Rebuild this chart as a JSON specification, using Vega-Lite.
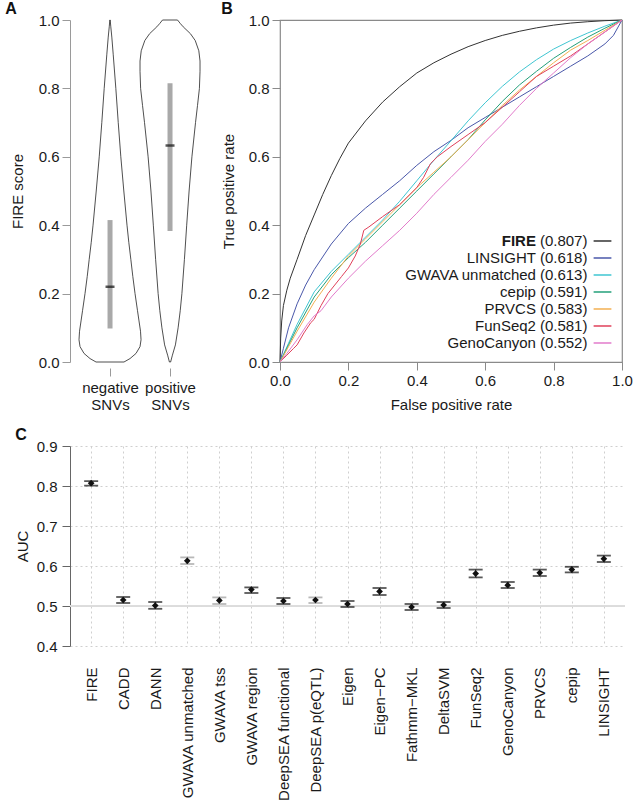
{
  "$schema": "https://vega.github.io/schema/vega-lite/v6.json",
  "padding": {"left": 5, "top": 0, "right": 5, "bottom": 0},
  "background": "white",
  "config": {
    "font": "Liberation Sans",
    "view": {"stroke": null},
    "axis": {"labelFontSize": 15, "titleFontSize": 15, "titleFontWeight": "normal", "labelColor": "#1a1a1a", "titleColor": "#1a1a1a", "tickColor": "#8a8a8a", "domainColor": "#8a8a8a", "tickSize": 8, "labelPadding": 3, "grid": false, "labelFont": "Liberation Sans", "titleFont": "Liberation Sans", "labelFlush": false, "labelOverlap": false},
    "title": {"fontSize": 16, "fontWeight": "bold", "anchor": "start", "frame": "bounds", "color": "#111", "font": "Liberation Sans"}
  },
  "datasets": {
    "violin": [
      {"group": "negative", "score": 0.0, "w": 0.233},
      {"group": "negative", "score": 0.01, "w": 0.333},
      {"group": "negative", "score": 0.025, "w": 0.433},
      {"group": "negative", "score": 0.045, "w": 0.5},
      {"group": "negative", "score": 0.065, "w": 0.517},
      {"group": "negative", "score": 0.09, "w": 0.508},
      {"group": "negative", "score": 0.12, "w": 0.483},
      {"group": "negative", "score": 0.15, "w": 0.458},
      {"group": "negative", "score": 0.2, "w": 0.417},
      {"group": "negative", "score": 0.25, "w": 0.38},
      {"group": "negative", "score": 0.3, "w": 0.347},
      {"group": "negative", "score": 0.35, "w": 0.313},
      {"group": "negative", "score": 0.4, "w": 0.283},
      {"group": "negative", "score": 0.5, "w": 0.23},
      {"group": "negative", "score": 0.6, "w": 0.18},
      {"group": "negative", "score": 0.7, "w": 0.137},
      {"group": "negative", "score": 0.8, "w": 0.097},
      {"group": "negative", "score": 0.9, "w": 0.053},
      {"group": "negative", "score": 0.95, "w": 0.03},
      {"group": "negative", "score": 0.98, "w": 0.013},
      {"group": "negative", "score": 1.0, "w": 0.003},
      {"group": "positive", "score": 0.0, "w": 0.01},
      {"group": "positive", "score": 0.02, "w": 0.04},
      {"group": "positive", "score": 0.05, "w": 0.09},
      {"group": "positive", "score": 0.1, "w": 0.135},
      {"group": "positive", "score": 0.15, "w": 0.17},
      {"group": "positive", "score": 0.2, "w": 0.198},
      {"group": "positive", "score": 0.3, "w": 0.24},
      {"group": "positive", "score": 0.4, "w": 0.278},
      {"group": "positive", "score": 0.5, "w": 0.318},
      {"group": "positive", "score": 0.6, "w": 0.365},
      {"group": "positive", "score": 0.7, "w": 0.425},
      {"group": "positive", "score": 0.75, "w": 0.458},
      {"group": "positive", "score": 0.8, "w": 0.49},
      {"group": "positive", "score": 0.85, "w": 0.5},
      {"group": "positive", "score": 0.88, "w": 0.5},
      {"group": "positive", "score": 0.91, "w": 0.48},
      {"group": "positive", "score": 0.94, "w": 0.42},
      {"group": "positive", "score": 0.96, "w": 0.34},
      {"group": "positive", "score": 0.98, "w": 0.22},
      {"group": "positive", "score": 0.99, "w": 0.17},
      {"group": "positive", "score": 1.0, "w": 0.125}
    ],
    "box": [
      {"group": "negative", "q1": 0.098, "median": 0.22, "q3": 0.415},
      {"group": "positive", "q1": 0.383, "median": 0.633, "q3": 0.815}
    ],
    "roc": [
      {"model": "FIRE", "fpr": 0, "tpr": 0},
      {"model": "FIRE", "fpr": 0.002, "tpr": 0.07},
      {"model": "FIRE", "fpr": 0.005, "tpr": 0.12},
      {"model": "FIRE", "fpr": 0.01, "tpr": 0.165},
      {"model": "FIRE", "fpr": 0.02, "tpr": 0.21},
      {"model": "FIRE", "fpr": 0.03, "tpr": 0.245},
      {"model": "FIRE", "fpr": 0.05, "tpr": 0.3},
      {"model": "FIRE", "fpr": 0.075, "tpr": 0.37},
      {"model": "FIRE", "fpr": 0.1, "tpr": 0.43},
      {"model": "FIRE", "fpr": 0.125, "tpr": 0.49},
      {"model": "FIRE", "fpr": 0.15, "tpr": 0.545},
      {"model": "FIRE", "fpr": 0.175, "tpr": 0.595},
      {"model": "FIRE", "fpr": 0.2, "tpr": 0.64},
      {"model": "FIRE", "fpr": 0.25, "tpr": 0.705},
      {"model": "FIRE", "fpr": 0.3, "tpr": 0.76},
      {"model": "FIRE", "fpr": 0.35, "tpr": 0.805},
      {"model": "FIRE", "fpr": 0.4, "tpr": 0.845},
      {"model": "FIRE", "fpr": 0.45, "tpr": 0.875},
      {"model": "FIRE", "fpr": 0.5, "tpr": 0.9},
      {"model": "FIRE", "fpr": 0.55, "tpr": 0.922},
      {"model": "FIRE", "fpr": 0.6, "tpr": 0.94},
      {"model": "FIRE", "fpr": 0.65, "tpr": 0.955},
      {"model": "FIRE", "fpr": 0.7, "tpr": 0.967},
      {"model": "FIRE", "fpr": 0.75, "tpr": 0.977},
      {"model": "FIRE", "fpr": 0.8, "tpr": 0.985},
      {"model": "FIRE", "fpr": 0.85, "tpr": 0.991},
      {"model": "FIRE", "fpr": 0.9, "tpr": 0.995},
      {"model": "FIRE", "fpr": 0.95, "tpr": 0.998},
      {"model": "FIRE", "fpr": 1, "tpr": 1},
      {"model": "LINSIGHT", "fpr": 0, "tpr": 0},
      {"model": "LINSIGHT", "fpr": 0.01, "tpr": 0.04},
      {"model": "LINSIGHT", "fpr": 0.025, "tpr": 0.1},
      {"model": "LINSIGHT", "fpr": 0.05, "tpr": 0.17},
      {"model": "LINSIGHT", "fpr": 0.075, "tpr": 0.225},
      {"model": "LINSIGHT", "fpr": 0.1, "tpr": 0.27},
      {"model": "LINSIGHT", "fpr": 0.15, "tpr": 0.345},
      {"model": "LINSIGHT", "fpr": 0.2, "tpr": 0.405},
      {"model": "LINSIGHT", "fpr": 0.25, "tpr": 0.45},
      {"model": "LINSIGHT", "fpr": 0.3, "tpr": 0.49},
      {"model": "LINSIGHT", "fpr": 0.35, "tpr": 0.53},
      {"model": "LINSIGHT", "fpr": 0.4, "tpr": 0.575},
      {"model": "LINSIGHT", "fpr": 0.45, "tpr": 0.615},
      {"model": "LINSIGHT", "fpr": 0.5, "tpr": 0.648},
      {"model": "LINSIGHT", "fpr": 0.55, "tpr": 0.685},
      {"model": "LINSIGHT", "fpr": 0.6, "tpr": 0.715},
      {"model": "LINSIGHT", "fpr": 0.65, "tpr": 0.745},
      {"model": "LINSIGHT", "fpr": 0.7, "tpr": 0.775},
      {"model": "LINSIGHT", "fpr": 0.75, "tpr": 0.805},
      {"model": "LINSIGHT", "fpr": 0.8, "tpr": 0.835},
      {"model": "LINSIGHT", "fpr": 0.85, "tpr": 0.865},
      {"model": "LINSIGHT", "fpr": 0.9, "tpr": 0.895},
      {"model": "LINSIGHT", "fpr": 0.95, "tpr": 0.93},
      {"model": "LINSIGHT", "fpr": 0.975, "tpr": 0.955},
      {"model": "LINSIGHT", "fpr": 1, "tpr": 1},
      {"model": "GWAVA unmatched", "fpr": 0, "tpr": 0},
      {"model": "GWAVA unmatched", "fpr": 0.025, "tpr": 0.055},
      {"model": "GWAVA unmatched", "fpr": 0.05, "tpr": 0.11},
      {"model": "GWAVA unmatched", "fpr": 0.1, "tpr": 0.205},
      {"model": "GWAVA unmatched", "fpr": 0.15, "tpr": 0.265},
      {"model": "GWAVA unmatched", "fpr": 0.2, "tpr": 0.315},
      {"model": "GWAVA unmatched", "fpr": 0.25, "tpr": 0.365},
      {"model": "GWAVA unmatched", "fpr": 0.3, "tpr": 0.415},
      {"model": "GWAVA unmatched", "fpr": 0.35, "tpr": 0.47},
      {"model": "GWAVA unmatched", "fpr": 0.4, "tpr": 0.53},
      {"model": "GWAVA unmatched", "fpr": 0.45, "tpr": 0.59},
      {"model": "GWAVA unmatched", "fpr": 0.5, "tpr": 0.647},
      {"model": "GWAVA unmatched", "fpr": 0.55, "tpr": 0.705},
      {"model": "GWAVA unmatched", "fpr": 0.6, "tpr": 0.758},
      {"model": "GWAVA unmatched", "fpr": 0.65, "tpr": 0.806},
      {"model": "GWAVA unmatched", "fpr": 0.7, "tpr": 0.848},
      {"model": "GWAVA unmatched", "fpr": 0.75, "tpr": 0.884},
      {"model": "GWAVA unmatched", "fpr": 0.8, "tpr": 0.915},
      {"model": "GWAVA unmatched", "fpr": 0.85, "tpr": 0.94},
      {"model": "GWAVA unmatched", "fpr": 0.9, "tpr": 0.962},
      {"model": "GWAVA unmatched", "fpr": 0.95, "tpr": 0.982},
      {"model": "GWAVA unmatched", "fpr": 1, "tpr": 1},
      {"model": "cepip", "fpr": 0, "tpr": 0},
      {"model": "cepip", "fpr": 0.025, "tpr": 0.05},
      {"model": "cepip", "fpr": 0.05, "tpr": 0.1},
      {"model": "cepip", "fpr": 0.1, "tpr": 0.19},
      {"model": "cepip", "fpr": 0.15, "tpr": 0.255},
      {"model": "cepip", "fpr": 0.2, "tpr": 0.305},
      {"model": "cepip", "fpr": 0.25, "tpr": 0.35},
      {"model": "cepip", "fpr": 0.3, "tpr": 0.4},
      {"model": "cepip", "fpr": 0.35, "tpr": 0.45},
      {"model": "cepip", "fpr": 0.4, "tpr": 0.5},
      {"model": "cepip", "fpr": 0.45, "tpr": 0.55},
      {"model": "cepip", "fpr": 0.5, "tpr": 0.6},
      {"model": "cepip", "fpr": 0.55, "tpr": 0.65},
      {"model": "cepip", "fpr": 0.6, "tpr": 0.708},
      {"model": "cepip", "fpr": 0.65, "tpr": 0.762},
      {"model": "cepip", "fpr": 0.7, "tpr": 0.81},
      {"model": "cepip", "fpr": 0.75, "tpr": 0.85},
      {"model": "cepip", "fpr": 0.8, "tpr": 0.888},
      {"model": "cepip", "fpr": 0.85, "tpr": 0.92},
      {"model": "cepip", "fpr": 0.9, "tpr": 0.95},
      {"model": "cepip", "fpr": 0.95, "tpr": 0.976},
      {"model": "cepip", "fpr": 1, "tpr": 1},
      {"model": "PRVCS", "fpr": 0, "tpr": 0},
      {"model": "PRVCS", "fpr": 0.025, "tpr": 0.045},
      {"model": "PRVCS", "fpr": 0.05, "tpr": 0.09},
      {"model": "PRVCS", "fpr": 0.1, "tpr": 0.175},
      {"model": "PRVCS", "fpr": 0.15, "tpr": 0.245},
      {"model": "PRVCS", "fpr": 0.2, "tpr": 0.31},
      {"model": "PRVCS", "fpr": 0.25, "tpr": 0.36},
      {"model": "PRVCS", "fpr": 0.3, "tpr": 0.41},
      {"model": "PRVCS", "fpr": 0.35, "tpr": 0.46},
      {"model": "PRVCS", "fpr": 0.4, "tpr": 0.51},
      {"model": "PRVCS", "fpr": 0.45, "tpr": 0.555},
      {"model": "PRVCS", "fpr": 0.5, "tpr": 0.6},
      {"model": "PRVCS", "fpr": 0.55, "tpr": 0.65},
      {"model": "PRVCS", "fpr": 0.6, "tpr": 0.7},
      {"model": "PRVCS", "fpr": 0.65, "tpr": 0.75},
      {"model": "PRVCS", "fpr": 0.7, "tpr": 0.795},
      {"model": "PRVCS", "fpr": 0.75, "tpr": 0.835},
      {"model": "PRVCS", "fpr": 0.8, "tpr": 0.875},
      {"model": "PRVCS", "fpr": 0.85, "tpr": 0.912},
      {"model": "PRVCS", "fpr": 0.9, "tpr": 0.94},
      {"model": "PRVCS", "fpr": 0.95, "tpr": 0.97},
      {"model": "PRVCS", "fpr": 1, "tpr": 1},
      {"model": "FunSeq2", "fpr": 0, "tpr": 0},
      {"model": "FunSeq2", "fpr": 0.02, "tpr": 0.02},
      {"model": "FunSeq2", "fpr": 0.04, "tpr": 0.04},
      {"model": "FunSeq2", "fpr": 0.05, "tpr": 0.05},
      {"model": "FunSeq2", "fpr": 0.07, "tpr": 0.085},
      {"model": "FunSeq2", "fpr": 0.09, "tpr": 0.115},
      {"model": "FunSeq2", "fpr": 0.1, "tpr": 0.125},
      {"model": "FunSeq2", "fpr": 0.12, "tpr": 0.165},
      {"model": "FunSeq2", "fpr": 0.14, "tpr": 0.2},
      {"model": "FunSeq2", "fpr": 0.16, "tpr": 0.225},
      {"model": "FunSeq2", "fpr": 0.18, "tpr": 0.25},
      {"model": "FunSeq2", "fpr": 0.2, "tpr": 0.275},
      {"model": "FunSeq2", "fpr": 0.22, "tpr": 0.31},
      {"model": "FunSeq2", "fpr": 0.235, "tpr": 0.345},
      {"model": "FunSeq2", "fpr": 0.245, "tpr": 0.385},
      {"model": "FunSeq2", "fpr": 0.26, "tpr": 0.395},
      {"model": "FunSeq2", "fpr": 0.3, "tpr": 0.425},
      {"model": "FunSeq2", "fpr": 0.35, "tpr": 0.46},
      {"model": "FunSeq2", "fpr": 0.4, "tpr": 0.51},
      {"model": "FunSeq2", "fpr": 0.42, "tpr": 0.54},
      {"model": "FunSeq2", "fpr": 0.44, "tpr": 0.58},
      {"model": "FunSeq2", "fpr": 0.46, "tpr": 0.6},
      {"model": "FunSeq2", "fpr": 0.5, "tpr": 0.63},
      {"model": "FunSeq2", "fpr": 0.55, "tpr": 0.665},
      {"model": "FunSeq2", "fpr": 0.6, "tpr": 0.7},
      {"model": "FunSeq2", "fpr": 0.65, "tpr": 0.745},
      {"model": "FunSeq2", "fpr": 0.7, "tpr": 0.79},
      {"model": "FunSeq2", "fpr": 0.75, "tpr": 0.835},
      {"model": "FunSeq2", "fpr": 0.8, "tpr": 0.865},
      {"model": "FunSeq2", "fpr": 0.85, "tpr": 0.895},
      {"model": "FunSeq2", "fpr": 0.9, "tpr": 0.93},
      {"model": "FunSeq2", "fpr": 0.95, "tpr": 0.965},
      {"model": "FunSeq2", "fpr": 1, "tpr": 1},
      {"model": "GenoCanyon", "fpr": 0, "tpr": 0},
      {"model": "GenoCanyon", "fpr": 0.02, "tpr": 0.025},
      {"model": "GenoCanyon", "fpr": 0.05, "tpr": 0.065},
      {"model": "GenoCanyon", "fpr": 0.08, "tpr": 0.11},
      {"model": "GenoCanyon", "fpr": 0.1, "tpr": 0.135},
      {"model": "GenoCanyon", "fpr": 0.12, "tpr": 0.15},
      {"model": "GenoCanyon", "fpr": 0.15, "tpr": 0.19},
      {"model": "GenoCanyon", "fpr": 0.2, "tpr": 0.245},
      {"model": "GenoCanyon", "fpr": 0.25, "tpr": 0.295},
      {"model": "GenoCanyon", "fpr": 0.3, "tpr": 0.34},
      {"model": "GenoCanyon", "fpr": 0.35, "tpr": 0.385},
      {"model": "GenoCanyon", "fpr": 0.4, "tpr": 0.435},
      {"model": "GenoCanyon", "fpr": 0.45, "tpr": 0.49},
      {"model": "GenoCanyon", "fpr": 0.5, "tpr": 0.54},
      {"model": "GenoCanyon", "fpr": 0.55, "tpr": 0.59},
      {"model": "GenoCanyon", "fpr": 0.6, "tpr": 0.645},
      {"model": "GenoCanyon", "fpr": 0.65, "tpr": 0.695},
      {"model": "GenoCanyon", "fpr": 0.7, "tpr": 0.75},
      {"model": "GenoCanyon", "fpr": 0.75, "tpr": 0.8},
      {"model": "GenoCanyon", "fpr": 0.8, "tpr": 0.845},
      {"model": "GenoCanyon", "fpr": 0.85, "tpr": 0.89},
      {"model": "GenoCanyon", "fpr": 0.9, "tpr": 0.93},
      {"model": "GenoCanyon", "fpr": 0.95, "tpr": 0.965},
      {"model": "GenoCanyon", "fpr": 1, "tpr": 1}
    ],
    "auc": [
      {"model": "FIRE", "auc": 0.807, "lo": 0.801, "hi": 0.812},
      {"model": "CADD", "auc": 0.515, "lo": 0.5075, "hi": 0.5225},
      {"model": "DANN", "auc": 0.501, "lo": 0.493, "hi": 0.51},
      {"model": "GWAVA unmatched", "auc": 0.613, "lo": 0.605, "hi": 0.6215},
      {"model": "GWAVA tss", "auc": 0.514, "lo": 0.505, "hi": 0.5215},
      {"model": "GWAVA region", "auc": 0.541, "lo": 0.5325, "hi": 0.5465},
      {"model": "DeepSEA functional", "auc": 0.5125, "lo": 0.505, "hi": 0.52},
      {"model": "DeepSEA p(eQTL)", "auc": 0.515, "lo": 0.5075, "hi": 0.5215},
      {"model": "Eigen", "auc": 0.505, "lo": 0.4975, "hi": 0.5125},
      {"model": "Eigen\u2212PC", "auc": 0.5365, "lo": 0.5275, "hi": 0.545},
      {"model": "Fathmm\u2212MKL", "auc": 0.4975, "lo": 0.49, "hi": 0.505},
      {"model": "DeltaSVM", "auc": 0.5025, "lo": 0.495, "hi": 0.51},
      {"model": "FunSeq2", "auc": 0.581, "lo": 0.5715, "hi": 0.591},
      {"model": "GenoCanyon", "auc": 0.552, "lo": 0.545, "hi": 0.56},
      {"model": "PRVCS", "auc": 0.583, "lo": 0.575, "hi": 0.591},
      {"model": "cepip", "auc": 0.591, "lo": 0.584, "hi": 0.598},
      {"model": "LINSIGHT", "auc": 0.618, "lo": 0.61, "hi": 0.626}
    ]
  },
  "vconcat": [
    {
      "hconcat": [
        {
          "width": 135,
          "height": 342,
          "title": {"text": "A", "offset": -4, "dx": -5},
          "layer": [
            {
              "data": {"name": "violin"},
              "transform": [
                {"calculate": "datum.group == 'negative' ? 1 : 2", "as": "c"},
                {"calculate": "datum.c - datum.w", "as": "lo"},
                {"calculate": "datum.c + datum.w", "as": "hi"}
              ],
              "mark": {"type": "area", "orient": "horizontal", "fill": "white", "stroke": "#222", "strokeWidth": 0.8},
              "encoding": {
                "y": {"field": "score", "type": "quantitative", "scale": {"domain": [0, 1], "nice": false},
                  "axis": {"title": "FIRE score", "values": [0, 0.2, 0.4, 0.6, 0.8, 1], "format": ".1f", "titlePadding": 13, "domainColor": "#9a9a9a", "tickColor": "#9a9a9a"}},
                "x": {"field": "lo", "type": "quantitative", "scale": {"domain": [0.333, 2.583], "nice": false, "zero": false},
                  "axis": {"title": null, "values": [1, 2], "labelExpr": "datum.value == 1 ? ['negative', 'SNVs'] : ['positive', 'SNVs']", "domain": false, "offset": 6, "labelLineHeight": 17, "labelPadding": 4, "tickColor": "#9a9a9a"}},
                "x2": {"field": "hi"},
                "detail": {"field": "group"}
              }
            },
            {
              "data": {"name": "box"},
              "transform": [{"calculate": "datum.group == 'negative' ? 1 : 2", "as": "c"}],
              "mark": {"type": "rule", "strokeWidth": 5, "color": "#a9a9a9"},
              "encoding": {
                "x": {"field": "c", "type": "quantitative"},
                "y": {"field": "q1", "type": "quantitative"},
                "y2": {"field": "q3"}
              }
            },
            {
              "data": {"name": "box"},
              "transform": [{"calculate": "datum.group == 'negative' ? 1 : 2", "as": "c"}],
              "mark": {"type": "tick", "orient": "horizontal", "size": 9, "thickness": 2.5, "color": "#111"},
              "encoding": {
                "x": {"field": "c", "type": "quantitative"},
                "y": {"field": "median", "type": "quantitative"}
              }
            }
          ]
        },
        {
          "width": 342,
          "height": 342,
          "title": {"text": "B", "offset": -4},
          "view": {"stroke": "#8a8a8a", "strokeWidth": 1.2},
          "layer": [
            {
              "layer": [
                {
                  "mark": {"type": "rule", "strokeDash": [4, 4], "color": "#9a9a9a", "strokeWidth": 1},
                  "encoding": {
                    "x": {"datum": 0, "type": "quantitative"},
                    "y": {"datum": 0, "type": "quantitative"},
                    "x2": {"datum": 1},
                    "y2": {"datum": 1}
                  }
                },
                {
                  "data": {"name": "roc"},
                  "mark": {"type": "line", "strokeWidth": 1, "interpolate": "linear"},
                  "encoding": {
                    "x": {"field": "fpr", "type": "quantitative", "scale": {"domain": [0, 1], "nice": false},
                      "axis": {"title": "False positive rate", "values": [0, 0.2, 0.4, 0.6, 0.8, 1], "format": ".1f", "domain": false, "titlePadding": 9, "labelPadding": 3}},
                    "y": {"field": "tpr", "type": "quantitative", "scale": {"domain": [0, 1], "nice": false},
                      "axis": {"title": "True positive rate", "values": [0, 0.2, 0.4, 0.6, 0.8, 1], "format": ".1f", "domain": false, "titlePadding": 12, "labelPadding": 3}},
                    "color": {"field": "model", "type": "nominal", "legend": null,
                      "scale": {"domain": ["FIRE", "LINSIGHT", "GWAVA unmatched", "cepip", "PRVCS", "FunSeq2", "GenoCanyon"],
                        "range": ["#333333", "#4a58aa", "#3fc6d2", "#23a07a", "#f3b052", "#e0405a", "#e27bcb"]}},
                    "detail": {"field": "model"}
                  }
                }
              ]
            },
            {
              "data": {"name": "auc"},
              "transform": [
                {"filter": {"field": "model", "oneOf": ["FIRE", "LINSIGHT", "GWAVA unmatched", "cepip", "PRVCS", "FunSeq2", "GenoCanyon"]}},
                {"window": [{"op": "row_number", "as": "rank"}], "sort": [{"field": "auc", "order": "descending"}]},
                {"calculate": "'(' + format(datum.auc, '.3f') + ')'", "as": "auclabel"}
              ],
              "encoding": {
                "y": {"field": "rank", "type": "quantitative", "scale": {"domain": [-12, 8.118], "reverse": true, "nice": false, "zero": false}, "axis": null}
              },
              "layer": [
                {
                  "mark": {"type": "text", "align": "right", "baseline": "middle", "fontSize": 15, "color": "#1a1a1a"},
                  "encoding": {"x": {"datum": 0.899, "type": "quantitative"}, "text": {"field": "auclabel"}}
                },
                {
                  "transform": [{"filter": "datum.model != 'FIRE'"}],
                  "mark": {"type": "text", "align": "right", "baseline": "middle", "fontSize": 15, "color": "#1a1a1a", "dx": -51.5},
                  "encoding": {"x": {"datum": 0.899, "type": "quantitative"}, "text": {"field": "model"}}
                },
                {
                  "transform": [{"filter": "datum.model == 'FIRE'"}],
                  "mark": {"type": "text", "align": "right", "baseline": "middle", "fontSize": 15, "fontWeight": "bold", "color": "#1a1a1a", "dx": -51.5},
                  "encoding": {"x": {"datum": 0.899, "type": "quantitative"}, "text": {"field": "model"}}
                },
                {
                  "mark": {"type": "rule", "strokeWidth": 1.5},
                  "encoding": {
                    "x": {"datum": 0.917, "type": "quantitative"},
                    "x2": {"datum": 0.969},
                    "color": {"field": "model", "type": "nominal", "legend": null}
                  }
                }
              ]
            }
          ],
          "resolve": {"scale": {"y": "independent"}}
        }
      ],
      "spacing": 15
    },
    {
      "width": 555,
      "height": 200,
      "title": {"text": "C", "offset": -4},
      "data": {"name": "auc"},
      "encoding": {
        "x": {"field": "model", "type": "nominal", "sort": null, "scale": {"type": "point", "padding": 0.66},
          "axis": {"title": null, "labelAngle": 270, "labelAlign": "right", "labelBaseline": "middle", "ticks": false, "tickSize": 0, "domain": false, "labelPadding": 21, "grid": true, "gridDash": [2, 3], "gridColor": "#cfcfcf"}}
      },
      "layer": [
        {
          "mark": {"type": "rule", "color": "#dcdcdc", "strokeWidth": 1},
          "encoding": {
            "y": {"datum": 0.5, "type": "quantitative", "scale": {"domain": [0.4, 0.9], "nice": false, "zero": false},
              "axis": {"title": "AUC", "values": [0.4, 0.5, 0.6, 0.7, 0.8, 0.9], "tickCount": 6, "labelExpr": "format(datum.value, '.1f')", "titlePadding": 6, "labelPadding": 5, "domainColor": "#666", "tickColor": "#666", "grid": true, "gridDash": [2, 3], "gridColor": "#cfcfcf", "labelOverlap": false, "labelSeparation": 0, "labelBound": false}},
            "x": {"value": 0},
            "x2": {"value": "width"}
          }
        },
        {
          "mark": {"type": "rule", "color": "#111", "strokeWidth": 1},
          "encoding": {
            "y": {"field": "lo", "type": "quantitative",
              "axis": {"title": "AUC", "values": [0.4, 0.5, 0.6, 0.7, 0.8, 0.9], "tickCount": 6, "labelExpr": "format(datum.value, '.1f')", "titlePadding": 6, "labelPadding": 5, "domainColor": "#666", "tickColor": "#666", "grid": true, "gridDash": [2, 3], "gridColor": "#cfcfcf", "labelOverlap": false, "labelSeparation": 0, "labelBound": false}},
            "y2": {"field": "hi"}
          }
        },
        {
          "mark": {"type": "tick", "size": 14, "thickness": 1.8},
          "encoding": {
            "y": {"field": "lo", "type": "quantitative",
              "axis": {"title": "AUC", "values": [0.4, 0.5, 0.6, 0.7, 0.8, 0.9], "tickCount": 6, "labelExpr": "format(datum.value, '.1f')", "titlePadding": 6, "labelPadding": 5, "domainColor": "#666", "tickColor": "#666", "grid": true, "gridDash": [2, 3], "gridColor": "#cfcfcf", "labelOverlap": false, "labelSeparation": 0, "labelBound": false}},
            "color": {"condition": {"test": "indexof(['GWAVA unmatched', 'GWAVA tss', 'DeepSEA p(eQTL)'], datum.model) >= 0", "value": "#9a9a9a"}, "value": "#111"}
          }
        },
        {
          "mark": {"type": "tick", "size": 14, "thickness": 1.8},
          "encoding": {
            "y": {"field": "hi", "type": "quantitative",
              "axis": {"title": "AUC", "values": [0.4, 0.5, 0.6, 0.7, 0.8, 0.9], "tickCount": 6, "labelExpr": "format(datum.value, '.1f')", "titlePadding": 6, "labelPadding": 5, "domainColor": "#666", "tickColor": "#666", "grid": true, "gridDash": [2, 3], "gridColor": "#cfcfcf", "labelOverlap": false, "labelSeparation": 0, "labelBound": false}},
            "color": {"condition": {"test": "indexof(['GWAVA unmatched', 'GWAVA tss', 'DeepSEA p(eQTL)'], datum.model) >= 0", "value": "#9a9a9a"}, "value": "#111"}
          }
        },
        {
          "mark": {"type": "point", "shape": "diamond", "filled": true, "size": 45, "color": "#111", "opacity": 1},
          "encoding": {"y": {"field": "auc", "type": "quantitative",
              "axis": {"title": "AUC", "values": [0.4, 0.5, 0.6, 0.7, 0.8, 0.9], "tickCount": 6, "labelExpr": "format(datum.value, '.1f')", "titlePadding": 6, "labelPadding": 5, "domainColor": "#666", "tickColor": "#666", "grid": true, "gridDash": [2, 3], "gridColor": "#cfcfcf", "labelOverlap": false, "labelSeparation": 0, "labelBound": false}}}
        }
      ]
    }
  ],
  "spacing": 14
}
